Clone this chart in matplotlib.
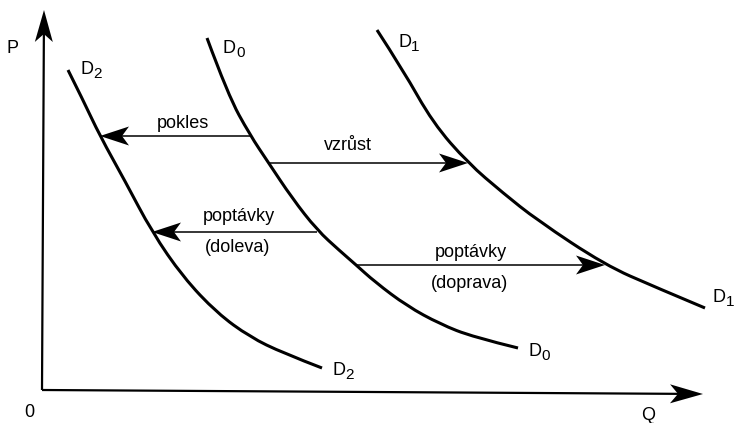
import numpy as np
import matplotlib
matplotlib.use("Agg")
import matplotlib.pyplot as plt
from matplotlib.path import Path
from matplotlib.patches import PathPatch, Polygon

plt.rcParams['font.family'] = ['Liberation Sans', 'DejaVu Sans']

# ---- data (Q = quantity, P = price) ----
d2_q = [26, 41, 58, 83, 110, 141, 175, 208, 241, 280]
d2_p = [320, 290, 254, 209, 158, 113, 77, 53, 37, 22]

d0_q = [165, 186, 208, 226, 250, 275, 298, 313, 333, 365, 398, 431, 476]
d0_p = [352, 295, 255, 228, 192, 160, 139, 126, 108, 84, 66, 53, 42]

d1_q = [335, 361, 391, 426, 461, 495, 563, 613, 663]
d1_p = [360, 320, 267, 227, 197, 170, 125, 103, 82]

# horizontal shift arrows: start Q, end Q, P level
shift_from = [208, 226, 275, 313]
shift_to = [58, 426, 110, 563]
shift_p = [254, 227, 158, 125]

shift_labels = ["pokles", "vzrůst", "poptávky", "(doleva)", "poptávky", "(doprava)"]
shift_label_q = [141, 306, 197, 196, 429, 428]
shift_label_p = [267, 245, 174, 143, 138, 107]

curve_names = ["2", "0", "1", "1", "0", "2"]
curve_name_q = [38, 181, 356, 671, 486, 290]
curve_name_p = [321, 342, 348, 93, 39, 20]

# ---- figure ----
fig = plt.figure(figsize=(7.34, 4.23), dpi=100)
ax = fig.add_axes([0, 0, 1, 1])
ax.set_xlim(-42, 692)
ax.set_ylim(-33, 390)
ax.axis('off')


def smooth_curve(qs, ps, lw=2.2):
    pts = list(zip(qs, ps))
    verts = [pts[0]]
    codes = [Path.MOVETO]
    for i in range(1, len(pts) - 1):
        nxt = pts[i + 1] if i == len(pts) - 2 else ((pts[i][0] + pts[i + 1][0]) / 2,
                                                   (pts[i][1] + pts[i + 1][1]) / 2)
        verts += [pts[i], nxt]
        codes += [Path.CURVE3, Path.CURVE3]
    ax.add_patch(PathPatch(Path(verts, codes), fill=False, lw=lw, color='black',
                           capstyle='butt'))


def arrow(start, tip, lw, length, width, notch):
    s = np.array(start, float)
    t = np.array(tip, float)
    u = (t - s) / np.linalg.norm(t - s)
    p = np.array([-u[1], u[0]])
    back = t - u * length
    inner = t - u * (length - notch)
    ax.plot([s[0], inner[0]], [s[1], inner[1]], color='black', lw=lw,
            solid_capstyle='butt')
    ax.add_patch(Polygon([t, back + p * width / 2, inner, back - p * width / 2],
                         closed=True, color='black', lw=0))


# axes
arrow((0, 0), (2, 380), 1.6, 32, 18, 8)
arrow((0, 0), (661, -4), 1.6, 33, 19, 8)

# demand curves
smooth_curve(d2_q, d2_p)
smooth_curve(d0_q, d0_p)
smooth_curve(d1_q, d1_p)

# shift arrows
for a, b, pv in zip(shift_from, shift_to, shift_p):
    arrow((a, pv), (b, pv), 1.1, 29, 19, 7)

fs = 13
for txt, q, pv in zip(shift_labels, shift_label_q, shift_label_p):
    ax.text(q, pv, txt, ha='center', va='center', fontsize=fs)

for sub, q, pv in zip(curve_names, curve_name_q, curve_name_p):
    ax.text(q, pv, "D", ha='left', va='center', fontsize=fs)
    ax.annotate(sub, xy=(q, pv), xytext=(9.6, -3.5), textcoords='offset points',
                ha='left', va='center', fontsize=11)

ax.text(-29, 342, "P", ha='center', va='center', fontsize=fs)
ax.text(-13, -22, "0", ha='center', va='center', fontsize=fs)
ax.text(606, -17, "Q", ha='center', va='top', fontsize=fs)

fig.savefig("out.png", dpi=100)
